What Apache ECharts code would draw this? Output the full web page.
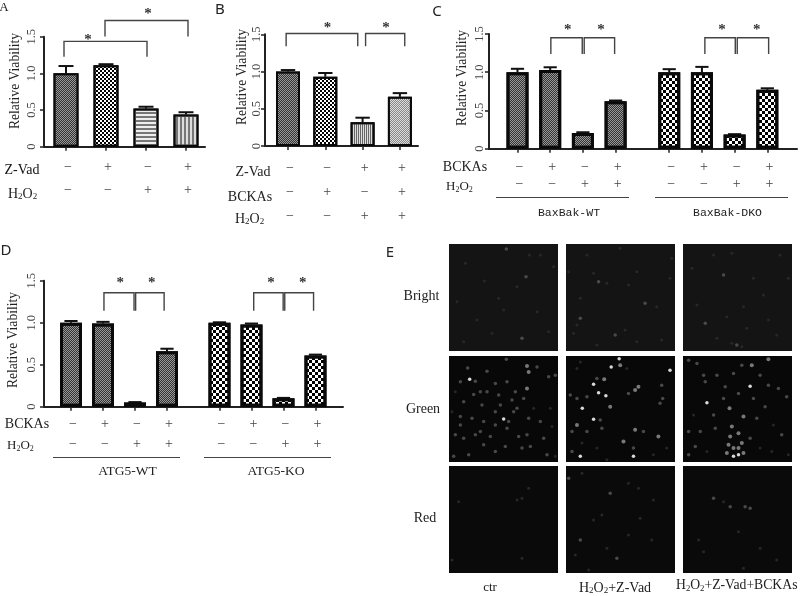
<!DOCTYPE html>
<html><head><meta charset="utf-8">
<style>html,body{margin:0;padding:0;background:#fff}#c{width:800px;height:596px}</style>
<script src="https://cdn.jsdelivr.net/npm/echarts@6/dist/echarts.min.js"></script>
</head><body><div id="c"></div>
<script>
// ---------- data ----------
const aMeans=[1.0,1.11,0.52,0.44], aErrs=[0.1,0.015,0.025,0.03];
const bMeans=[1.0,0.93,0.32,0.66], bErrs=[0.02,0.05,0.06,0.05];
const cMeans=[1.0,1.03,0.205,0.62,1.0,1.0,0.185,0.77], cErrs=[0.045,0.035,0.01,0.01,0.04,0.07,0.005,0.02];
const dMeans=[1.0,0.99,0.05,0.66,1.0,0.98,0.10,0.61], dErrs=[0.02,0.02,0.005,0.03,0.005,0.01,0.005,0.01];
const aZVad=['−','+','−','+'], aH2O2=['−','−','+','+'];
const bZVad=['−','−','+','+'], bBCKA=['−','+','−','+'], bH2O2=['−','−','+','+'];
const cBCKA=['−','+','−','+','−','+','−','+'], cH2O2=['−','−','+','+','−','−','+','+'];
const dBCKA=cBCKA, dH2O2=cH2O2;
const yTicks=['0','0.5','1.0','1.5'];
// brackets: x1,x2,top,bottom in axis units, star x, star y
const aBrackets=[[-0.05,2.025,1.436,1.227,0.55,1.49],[0.975,3.05,1.72,1.504,2.05,1.84]];
const bBrackets=[[-0.05,1.87,1.51,1.34,1.06,1.62],[2.08,3.13,1.51,1.34,2.63,1.62]];
const cBrackets=[[1.02,1.98,1.45,1.238,1.535,1.58],[2.04,2.97,1.45,1.238,2.55,1.58],[5.73,6.66,1.45,1.238,6.25,1.58],[6.72,7.68,1.45,1.238,7.32,1.58]];
const dBrackets=[[1.03,1.97,1.357,1.143,1.54,1.5],[2.02,2.91,1.357,1.143,2.52,1.5],[5.71,6.63,1.357,1.143,6.25,1.5],[6.68,7.58,1.357,1.143,7.24,1.5]];
// micrograph spots: x,y,level
const bright1=[[378,42,2],[255,85,1],[447,60,1],[437,125,2],[312,138,1],[410,155,1],[355,190,1],[290,255,1],[335,295,1],[425,310,2],[505,290,1],[520,95,1],[480,60,1],[230,200,1],[470,230,1],[370,225,1],[250,320,1]];
const bright2=[[655,140,2],[640,115,1],[680,145,1],[745,150,1],[795,205,2],[830,215,1],[600,250,2],[590,270,1],[580,295,1],[705,300,2],[735,285,1],[770,320,1],[845,315,1],[770,110,1],[720,40,1],[620,60,1],[565,110,1],[875,70,1],[870,130,1],[650,330,1],[600,190,1]];
const bright3=[[1030,120,2],[1055,55,1],[1090,215,1],[1165,255,1],[975,265,2],[1040,245,1],[1070,330,2],[1055,325,1],[1085,335,1],[935,100,1],[1000,60,1],[1200,60,1],[1225,130,1],[1120,130,1],[950,210,1],[1150,180,1],[1010,310,1],[1190,300,1],[1100,280,1]];
const green1=[[268,432,4],[262,398,2],[320,408,2],[378,372,2],[440,392,3],[445,410,3],[470,395,2],[505,425,2],[525,420,2],[240,440,2],[285,438,2],[300,470,2],[280,478,2],[345,445,2],[380,440,2],[405,470,2],[440,460,3],[430,490,2],[360,510,2],[395,495,2],[345,530,2],[305,510,2],[250,500,2],[225,470,1],[215,530,1],[240,545,2],[275,550,2],[310,560,2],[345,570,2],[385,560,2],[370,552,4],[400,530,2],[445,550,2],[480,560,2],[460,520,1],[510,520,1],[515,575,1],[490,610,2],[440,600,2],[415,605,2],[380,580,2],[330,605,2],[285,600,2],[250,610,2],[225,600,2],[220,665,2],[265,660,2],[310,630,2],[345,650,2],[375,635,2],[425,640,2],[450,635,2],[500,660,2],[525,665,1],[240,570,2],[300,590,2],[410,520,2],[355,480,2],[320,470,2]];
const green2=[[693,395,4],[717,370,4],[870,405,4],[640,447,4],[655,473,4],[677,482,4],[606,520,4],[640,553,4],[600,665,4],[760,665,4],[690,515,3],[672,432,3],[775,455,3],[720,390,3],[845,450,2],[848,490,2],[840,505,2],[590,400,1],[570,480,2],[590,490,2],[620,485,2],[650,430,2],[745,475,2],[765,465,3],[590,570,3],[575,590,2],[620,590,2],[660,555,2],[665,580,2],[730,620,3],[765,585,3],[790,590,2],[835,605,3],[760,640,2],[650,640,1],[680,675,1],[605,625,1],[575,650,2],[860,640,1],[820,660,1],[740,400,1],[600,380,1]];
const green3=[[980,503,4],[1110,453,4],[1048,520,3],[1060,665,4],[1075,640,3],[1045,630,3],[1115,390,3],[1165,372,3],[925,375,2],[950,385,2],[975,440,2],[1010,420,2],[1060,415,2],[1085,390,2],[1140,420,2],[1165,450,2],[1195,460,2],[1220,485,2],[1075,475,2],[1030,490,2],[1000,540,2],[1005,580,2],[960,590,2],[925,590,2],[945,635,2],[925,660,2],[980,650,1],[1090,545,3],[1130,550,2],[1155,515,2],[1180,570,1],[1205,600,2],[1225,660,1],[1140,640,1],[1175,650,1],[1110,610,2],[1055,575,3],[1075,595,3],[1050,605,3],[1085,625,3],[1060,640,3],[1040,655,3],[1075,660,4],[1090,655,3],[970,420,2],[1035,455,2],[1120,490,2],[940,540,1]];
const red1=[[410,795,1],[425,790,1],[445,760,1],[235,800,1],[215,975,1],[425,970,1]];
const red2=[[565,730,2],[605,715,1],[745,745,1],[775,760,1],[690,775,2],[820,795,1],[600,915,2],[640,855,1],[665,840,1],[680,940,1],[710,970,2],[625,1005,1],[585,960,1],[815,915,1],[745,900,1],[780,850,1]];
const red3=[[1000,790,2],[1050,815,2],[1095,815,2],[1110,820,2],[1030,800,1],[955,915,1],[970,950,1],[1075,890,1],[1140,940,1],[1090,1000,1],[1190,975,1]];

// ---------- decals ----------
const check=(s,c)=>({symbol:'rect',color:c,dashArrayX:[[s,s],[0,s,s,0]],dashArrayY:[s,0],symbolSize:1,rotation:0});
const hatchH=(a,b,c)=>({symbol:'rect',color:c,dashArrayX:[1,0],dashArrayY:[a,b],symbolSize:1,rotation:0});
const hatchV=(a,b,c)=>({symbol:'rect',color:c,dashArrayX:[a,b],dashArrayY:[1,0],symbolSize:1,rotation:0});
const sty={
  dark:{color:'#999',decal:check(1,'#333')},
  board:{color:'#fff',decal:check(2,'#000')},
  board3:{color:'#fff',decal:check(3,'#000')},
  lines:{color:'#eee',decal:hatchH(2,2,'#777')},
  vlines:{color:'#ddd',decal:hatchV(2,2,'#777')},
  vfine:{color:'#ddd',decal:hatchV(1,1,'#666')},
  light:{color:'#ddd',decal:check(1,'#888')},
  weave:{color:'#999',decal:check(1,'#333')}
};

// ---------- panels ----------
const panels=[
 {m:aMeans,e:aErrs,br:aBrackets,xs:[0,1,2,3],l:44,r:205,t:36.7,b:146.7,c0:66,sp:40,bw:25,bb:2,st:['dark','board','lines','vlines'],
  margin:12,rows:[[aZVad,167],[aH2O2,190]]},
 {m:bMeans,e:bErrs,br:bBrackets,xs:[0,1,2,3],l:265,r:418,t:34.3,b:146,c0:288,sp:37.3,bw:24,bb:2,st:['dark','board','vfine','light'],
  margin:8,rows:[[bZVad,168],[bBCKA,192],[bH2O2,216]]},
 {m:cMeans,e:cErrs,br:cBrackets,xs:[0,1,2,3,4.64,5.64,6.64,7.64],l:489,r:797,t:34,b:148.7,c0:517.5,sp:32.7,bw:22,bb:3,st:['weave','weave','weave','weave','board3','board3','board3','board3'],
  margin:9,rows:[[cBCKA,167],[cH2O2,184]]},
 {m:dMeans,e:dErrs,br:dBrackets,xs:[0,1,2,3,4.64,5.64,6.64,7.64],l:44,r:343,t:280.7,b:406.7,c0:71,sp:32,bw:22,bb:3,st:['weave','weave','weave','weave','board3','board3','board3','board3'],
  margin:12,rows:[[dBCKA,424],[dH2O2,444]]}
];
const images=[
 {d:bright1,x:[206,533],y:[27,348],px:[449,558],py:[244,351],bg:'#141414'},
 {d:bright2,x:[557,885],y:[27,348],px:[566,675],py:[244,351],bg:'#141414'},
 {d:bright3,x:[908,1236],y:[27,348],px:[683,792],py:[244,351],bg:'#141414'},
 {d:green1,x:[206,533],y:[362,682],px:[449,558],py:[356,462],bg:'#080808'},
 {d:green2,x:[557,885],y:[362,682],px:[566,675],py:[356,462],bg:'#080808'},
 {d:green3,x:[908,1236],y:[362,682],px:[683,792],py:[356,462],bg:'#080808'},
 {d:red1,x:[206,533],y:[693,1014],px:[449,558],py:[466,573],bg:'#0a0a0a'},
 {d:red2,x:[557,885],y:[693,1014],px:[566,675],py:[466,573],bg:'#0a0a0a'},
 {d:red3,x:[908,1236],y:[693,1014],px:[683,792],py:[466,573],bg:'#0a0a0a'}
];
const serif='"Liberation Serif",serif', mono='"Liberation Mono",monospace', sans='"Noto Sans",sans-serif';
const grid=[],xAxis=[],yAxis=[],series=[];
panels.forEach((p,i)=>{
  grid.push({left:p.l,top:p.t,width:p.r-p.l,height:p.b-p.t,containLabel:false});
  xAxis.push({type:'value',gridIndex:i,min:(p.l-p.c0)/p.sp,max:(p.r-p.c0)/p.sp,splitLine:{show:false},
    axisLine:{show:true,onZero:false,lineStyle:{color:'#222',width:2}},
    axisTick:{show:true,customValues:p.xs,length:4,lineStyle:{color:'#222',width:1.5}},axisLabel:{show:false}});
  yAxis.push({type:'value',gridIndex:i,min:0,max:1.5,interval:0.5,splitLine:{show:false},
    axisLine:{show:true,onZero:false,lineStyle:{color:'#222',width:2}},
    axisTick:{show:true,length:4,lineStyle:{color:'#222',width:1.5}},
    axisLabel:{rotate:90,margin:p.margin,fontFamily:serif,fontSize:12.5,color:'#444',align:'center',verticalAlign:'middle',
      formatter:v=>yTicks[Math.round(v/0.5)]}});
  series.push({type:'custom',xAxisIndex:i,yAxisIndex:i,z:1,clip:false,silent:true,
    data:p.m.map((v,k)=>[p.xs[k],v,p.e[k]]),
    renderItem:(ctx,api)=>{
      const a=api.coord([api.value(0),api.value(1)]),b=api.coord([api.value(0),api.value(1)+api.value(2)]);
      const w=p.bw*0.3;
      return {type:'group',children:[
        {type:'line',shape:{x1:a[0],y1:a[1],x2:b[0],y2:b[1]},style:{stroke:'#111',lineWidth:2}},
        {type:'line',shape:{x1:b[0]-w,y1:b[1],x2:b[0]+w,y2:b[1]},style:{stroke:'#111',lineWidth:2}}]};
    }});
  series.push({type:'bar',xAxisIndex:i,yAxisIndex:i,z:2,barWidth:p.bw,silent:true,
    data:p.m.map((v,k)=>({value:[p.xs[k],v],itemStyle:{color:sty[p.st[k]].color,decal:sty[p.st[k]].decal,borderColor:'#0a0a0a',borderWidth:p.bb}}))});
  series.push({type:'custom',xAxisIndex:i,yAxisIndex:i,z:3,clip:false,silent:true,data:p.br,encode:{x:[0,1,4],y:[2,3,5]},
    renderItem:(ctx,api)=>{
      const v=k=>api.value(k);
      const A=api.coord([v(0),v(3)]),B=api.coord([v(0),v(2)]),C=api.coord([v(1),v(2)]),D=api.coord([v(1),v(3)]),S=api.coord([v(4),v(5)]);
      return {type:'group',children:[
        {type:'polyline',shape:{points:[A,B,C,D]},style:{stroke:'#444',lineWidth:1.4,fill:null}},
        {type:'text',x:S[0],y:S[1]+2.5,style:{text:'*',font:'bold 15px '+serif,fill:'#333',align:'center',verticalAlign:'middle'}}]};
    }});
  series.push({type:'custom',xAxisIndex:i,yAxisIndex:i,z:3,clip:false,silent:true,data:p.xs.map(x=>[x,0]),
    renderItem:(ctx,api)=>{
      const x=api.coord([api.value(0),0])[0]+2, k=ctx.dataIndex;
      return {type:'group',children:p.rows.map(r=>({type:'text',x:x,y:r[1],style:{text:r[0][k],font:'14px '+serif,fill:'#444',align:'center',verticalAlign:'middle'}}))};
    }});
});
const levelColor=['','#2a2a2a','#505050','#858585','#f0f0f0'];
const levelSize=[0,3,3.5,4,3.5];
images.forEach((m,j)=>{
  const i=panels.length+j;
  grid.push({left:m.px[0],top:m.py[0],width:m.px[1]-m.px[0],height:m.py[1]-m.py[0],show:true,backgroundColor:m.bg,borderWidth:0});
  xAxis.push({type:'value',gridIndex:i,min:m.x[0],max:m.x[1],show:false});
  yAxis.push({type:'value',gridIndex:i,min:m.y[0],max:m.y[1],inverse:true,show:false});
  series.push({type:'scatter',xAxisIndex:i,yAxisIndex:i,silent:true,symbol:'circle',
    data:m.d,symbolSize:v=>levelSize[v[2]],
    itemStyle:{color:q=>levelColor[q.value[2]],opacity:0.9}});
});
// ---------- annotation text ----------
const T=(text,x,y,font,fill,align)=>({type:'text',x,y,silent:true,style:{text,font,fill:fill||'#222',align:align||'center',verticalAlign:'middle'}});
const Y=(x,y)=>({type:'text',x,y,rotation:Math.PI/2,silent:true,style:{text:'Relative Viability',font:'13.6px '+serif,fill:'#222',align:'center',verticalAlign:'middle'}});
const H=(x,y,sz,tail)=>({type:'text',x,y,silent:true,style:{align:'left',verticalAlign:'middle',fill:'#444',
  text:'{b|H}{s|2}{b|O}{s|2}'+(tail?'{b|'+tail+'}':''),
  rich:{b:{fontFamily:serif,fontSize:sz,lineHeight:sz+2,fill:'#222',verticalAlign:'bottom'},s:{fontFamily:serif,fontSize:sz-5,lineHeight:sz-5,fill:'#222',verticalAlign:'bottom'}}}});
const L=(x1,x2,y)=>({type:'line',silent:true,shape:{x1,y1:y,x2,y2:y},style:{stroke:'#444',lineWidth:1}});
const graphic=[
 Y(15,81),Y(242,77),Y(462,78),Y(13,340),
 T('A',4,8,'13px '+serif),T('B',220,10,'15px '+sans),T('C',437,12,'15px '+sans),T('D',6,251,'15px '+sans),T('E',390,253,'15px '+sans),
 T('Z-Vad',22,170,'14px '+serif,'#111'),H(8,193,14),
 T('Z-Vad',253,172,'14px '+serif),T('BCKAs',250,197,'14px '+serif),H(235,218,14),
 T('BCKAs',465,167,'14px '+serif),H(446,186,13),
 T('BCKAs',27,424,'14px '+serif),H(7,445,13),
 L(496,629,197.5),L(655,788,197.5),L(53,180,457.5),L(204,331,457.5),
 T('BaxBak-WT',569,212.5,'11.5px '+mono),T('BaxBak-DKO',727.5,212.5,'11.5px '+mono),
 T('ATG5-WT',127.5,471.5,'13.5px '+serif),T('ATG5-KO',276,471.5,'13.5px '+serif),
 T('Bright',421.5,296,'14px '+serif),T('Green',423,409,'14px '+serif),T('Red',425,518,'14px '+serif),
 T('ctr',490,588,'13px '+serif),H(579,587,14,'+Z-Vad'),H(676,585,13.7,'+Z-Vad+BCKAs')
];
const chart=echarts.init(document.getElementById('c'),null,{renderer:'canvas'});
chart.setOption({animation:false,backgroundColor:'#fff',grid,xAxis,yAxis,series,graphic});
</script></body></html>
